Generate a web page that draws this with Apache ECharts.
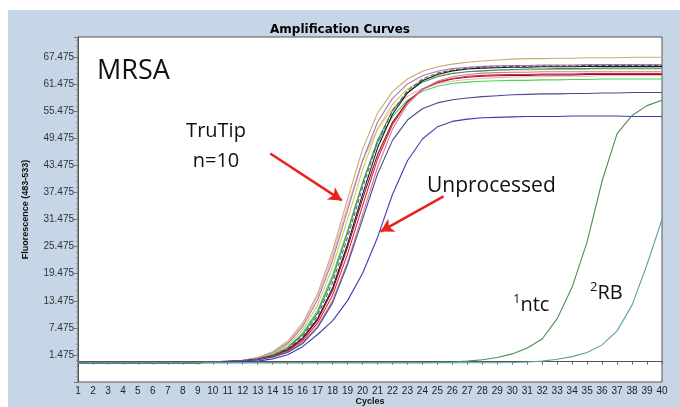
<!DOCTYPE html>
<html>
<head>
<meta charset="utf-8">
<script src="https://cdn.jsdelivr.net/npm/echarts@6/dist/echarts.min.js"></script>
<style>
html, body { margin: 0; padding: 0; background: #fff; }
#chart { width: 680px; height: 407px; }
</style>
</head>
<body>
<div id="chart"></div>
<script>
// cycles on the x axis
const cycles = [1, 2, 3, 4, 5, 6, 7, 8, 9, 10, 11, 12, 13, 14, 15, 16, 17, 18, 19, 20,
  21, 22, 23, 24, 25, 26, 27, 28, 29, 30, 31, 32, 33, 34, 35, 36, 37, 38, 39, 40]

// TruTip n=10 (plus one lower plateau run), fluorescence per cycle
const truTan = [-0.25, -0.25, -0.25, -0.25, -0.25, -0.25, -0.25, -0.25, -0.25, -0.1, 0.1,
  0.3, 0.9, 2.2, 4.5, 8.5, 15, 24.5, 36, 47, 55, 59.8, 62.6, 64.3, 65.3, 65.9, 66.3, 66.6, 66.8, 67.0,
  67.1, 67.1, 67.2, 67.2, 67.3, 67.3, 67.3, 67.4, 67.4, 67.4]
const truPink = [-0.25, -0.25, -0.25, -0.25, -0.25, -0.25, -0.25, -0.25, -0.25, -0.1, 0.1,
  0.3, 0.9, 2.1, 4.3, 8.2, 14.5, 23.5, 34.5, 44.5, 51.5, 56, 58.8, 60.5, 61.5, 62.1, 62.5, 62.7, 62.9, 63.0,
  63.1, 63.1, 63.2, 63.2, 63.2, 63.3, 63.3, 63.3, 63.3, 63.3]
const truLavender = [-0.25, -0.25, -0.25, -0.25, -0.25, -0.25, -0.25, -0.25, -0.25, -0.1, 0.1,
  0.3, 0.8, 1.9, 4.0, 7.7, 13.7, 22.5, 33.5, 44.5, 53, 58.3, 61.5, 63.3, 64.3, 64.9, 65.2, 65.4, 65.5, 65.6,
  65.6, 65.7, 65.7, 65.7, 65.8, 65.8, 65.8, 65.8, 65.8, 65.8]
const truYellow = [-0.25, -0.25, -0.25, -0.25, -0.25, -0.25, -0.25, -0.25, -0.25, -0.1, 0.0,
  0.2, 0.7, 1.7, 3.6, 7.0, 12.5, 21, 31.5, 42.5, 51.5, 57, 60.4, 62.3, 63.3, 63.9, 64.2, 64.4, 64.5, 64.6,
  64.6, 64.7, 64.7, 64.7, 64.8, 64.8, 64.8, 64.8, 64.8, 64.8]
const truGreen = [-0.25, -0.25, -0.25, -0.25, -0.25, -0.25, -0.25, -0.25, -0.25, -0.1, 0.0,
  0.2, 0.6, 1.5, 3.2, 6.3, 11.3, 19.2, 29, 39.5, 48.5, 54.3, 57.9, 59.9, 61, 61.6, 61.9, 62.1, 62.2, 62.3,
  62.3, 62.4, 62.4, 62.5, 62.5, 62.6, 62.6, 62.6, 62.6, 62.6]
const truTeal = [-0.25, -0.25, -0.25, -0.25, -0.25, -0.25, -0.25, -0.25, -0.25, -0.1, 0.0,
  0.2, 0.6, 1.4, 3.0, 6.0, 10.8, 18.5, 28.5, 39.5, 49, 55.6, 59.6, 61.9, 63.1, 63.8, 64.2, 64.4, 64.6, 64.7,
  64.8, 64.8, 64.9, 64.9, 64.9, 65.0, 65.0, 65.0, 65.0, 65.0]
const truGray = [-0.25, -0.25, -0.25, -0.25, -0.25, -0.25, -0.25, -0.25, -0.25, -0.1, 0.0,
  0.2, 0.5, 1.3, 2.8, 5.6, 10.2, 17.5, 27.5, 38.5, 48.5, 55.5, 60, 62.6, 63.9, 64.6, 65.0, 65.2, 65.3, 65.4,
  65.4, 65.5, 65.5, 65.5, 65.6, 65.6, 65.6, 65.6, 65.6, 65.6]
const truBlack = [-0.25, -0.25, -0.25, -0.25, -0.25, -0.25, -0.25, -0.25, -0.25, -0.1, 0.0,
  0.1, 0.5, 1.2, 2.6, 5.2, 9.5, 16.3, 26, 37, 47.3, 54.8, 59.5, 62.2, 63.6, 64.4, 64.8, 65.0, 65.1, 65.2,
  65.2, 65.3, 65.3, 65.3, 65.4, 65.4, 65.4, 65.4, 65.4, 65.4]
const truMaroon = [-0.25, -0.25, -0.25, -0.25, -0.25, -0.25, -0.25, -0.25, -0.25, -0.1, 0.0,
  0.1, 0.5, 1.2, 2.5, 5.0, 9.2, 15.8, 25.3, 36, 45.8, 53, 57.6, 60.3, 61.8, 62.6, 63.0, 63.2, 63.3, 63.4,
  63.4, 63.5, 63.5, 63.5, 63.6, 63.6, 63.6, 63.6, 63.6, 63.6]
const truRed = [-0.25, -0.25, -0.25, -0.25, -0.25, -0.25, -0.25, -0.25, -0.25, -0.1, 0.0,
  0.1, 0.4, 1.1, 2.3, 4.6, 8.5, 14.7, 23.8, 34.5, 44.8, 52.5, 57.4, 60.3, 61.9, 62.7, 63.2, 63.4, 63.5, 63.6,
  63.6, 63.7, 63.7, 63.7, 63.8, 63.8, 63.8, 63.8, 63.8, 63.8]
const truMagenta = [-0.25, -0.25, -0.25, -0.25, -0.25, -0.25, -0.25, -0.25, -0.25, -0.1, 0.0,
  0.1, 0.4, 1.0, 2.1, 4.2, 7.8, 13.5, 22, 32.5, 43, 51.5, 57, 60.3, 62.1, 63.1, 63.6, 63.9, 64.0, 64.1,
  64.1, 64.2, 64.2, 64.2, 64.2, 64.2, 64.2, 64.2, 64.2, 64.2]
const truNavy = [-0.25, -0.25, -0.25, -0.25, -0.25, -0.25, -0.25, -0.25, -0.25, -0.1, 0.0,
  0.1, 0.4, 1.0, 2.0, 4.0, 7.5, 13, 21.5, 31.5, 41.5, 49, 53.5, 56, 57.3, 58.0, 58.4, 58.7, 58.9, 59.1,
  59.2, 59.3, 59.3, 59.4, 59.4, 59.5, 59.5, 59.6, 59.6, 59.6]

// unprocessed sample
const unprocessed = [-0.25, -0.25, -0.25, -0.25, -0.25, -0.25, -0.25, -0.25, -0.25, -0.2, -0.1,
  0.0, 0.1, 0.6, 1.5, 3.3, 6.0, 9.0, 13.5, 19.5, 27.5, 37, 44.5, 49.3, 52, 53.2, 53.7, 54.0, 54.1, 54.2,
  54.3, 54.3, 54.3, 54.4, 54.4, 54.4, 54.4, 54.3, 54.3, 54.3]

// controls: 1 ntc, 2 RB
const ntc = [-0.25, -0.25, -0.25, -0.25, -0.25, -0.25, -0.25, -0.25, -0.25, -0.25, -0.25,
  -0.25, -0.25, -0.25, -0.25, -0.25, -0.25, -0.25, -0.25, -0.25, -0.25, -0.25, -0.25, -0.25,
  -0.2, -0.1, 0.1, 0.4, 0.9, 1.7, 3.0, 5.0, 9.5, 16.5, 26.5, 40, 50.5, 54.5, 56.7, 57.9]
const rb = [-0.25, -0.25, -0.25, -0.25, -0.25, -0.25, -0.25, -0.25, -0.25, -0.25, -0.25,
  -0.25, -0.25, -0.25, -0.25, -0.25, -0.25, -0.25, -0.25, -0.25, -0.25, -0.25, -0.25, -0.25,
  -0.25, -0.25, -0.25, -0.25, -0.25, -0.2, -0.1, 0.1, 0.5, 1.1, 2.0, 3.7, 6.8, 12.5, 21.5, 31.5]

// arrow annotations [cycle, fluorescence]
const arrowTruTip = [[13.84, 46.1], [18.62, 35.7]]
const arrowUnproc = [[25.41, 36.6], [21.2, 28.8]]

const curves = [
  { name: 'TruTip 1', values: truTan, color: '#c9ab6c' },
  { name: 'TruTip 2', values: truPink, color: '#ebb3bb' },
  { name: 'TruTip 3', values: truLavender, color: '#a277c2' },
  { name: 'TruTip 4', values: truYellow, color: '#d9cb45' },
  { name: 'TruTip 5', values: truGreen, color: '#4fd24f' },
  { name: 'TruTip 6', values: truTeal, color: '#3a8e7e' },
  { name: 'TruTip 7', values: truGray, color: '#666666', type: 'dashed' },
  { name: 'TruTip 8', values: truBlack, color: '#1a1a1a' },
  { name: 'TruTip 9', values: truMaroon, color: '#7a1434' },
  { name: 'TruTip 10', values: truRed, color: '#e02a2a' },
  { name: 'TruTip 11', values: truMagenta, color: '#d276aa' },
  { name: 'TruTip 12', values: truNavy, color: '#4a4a8c' },
  { name: 'Unprocessed', values: unprocessed, color: '#3d3db0' },
  { name: 'ntc', values: ntc, color: '#4d8f4d' },
  { name: 'RB', values: rb, color: '#5aa0a6' }
]

const chart = echarts.init(document.getElementById('chart'))

const series = curves.map(item => {
  return {
    name: item.name,
    type: 'line',
    showSymbol: false,
    silent: true,
    lineStyle: { color: item.color, width: 1.1, type: item.type || 'solid' },
    data: cycles.map((c, i) => [c, item.values[i]])
  }
})

series.push({
  name: 'arrows',
  type: 'line',
  data: [],
  silent: true,
  markLine: {
    silent: true,
    symbol: ['none', 'arrow'],
    symbolSize: [11, 13],
    label: { show: false },
    lineStyle: { color: '#e8231c', width: 2.5, type: 'solid' },
    data: [
      [{ coord: arrowTruTip[0] }, { coord: arrowTruTip[1] }],
      [{ coord: arrowUnproc[0] }, { coord: arrowUnproc[1] }]
    ]
  }
})

const labelFont = 'Open Sans'

const option = {
  backgroundColor: '#fff',
  animation: false,
  title: {
    text: 'Amplification Curves',
    left: 'center',
    top: 19,
    textStyle: { fontSize: 12, fontWeight: 'bold', fontFamily: 'DejaVu Sans', color: '#000' }
  },
  grid: {
    left: 78,
    right: 18,
    top: 37,
    bottom: 25,
    containLabel: false,
    outerBoundsMode: 'none',
    show: true,
    backgroundColor: '#fff',
    borderColor: '#555',
    borderWidth: 1
  },
  xAxis: {
    type: 'value',
    min: 1,
    max: 40,
    interval: 1,
    name: 'Cycles',
    nameLocation: 'middle',
    nameGap: 15,
    nameMoveOverlap: false,
    nameTextStyle: { fontSize: 9, fontWeight: 'bold', color: '#111', fontFamily: 'Liberation Sans' },
    axisLine: { lineStyle: { color: '#555' } },
    axisTick: { length: 3, lineStyle: { color: '#666' } },
    axisLabel: { fontSize: 10, color: '#222', margin: 4, fontFamily: 'Liberation Sans' },
    splitLine: { show: false }
  },
  yAxis: {
    type: 'value',
    min: -4.525,
    max: 71.9,
    interval: 6,
    name: 'Fluorescence (483-533)',
    nameLocation: 'middle',
    nameGap: 48,
    nameMoveOverlap: false,
    nameTextStyle: { fontSize: 9, fontWeight: 'bold', color: '#111', fontFamily: 'Liberation Sans' },
    axisLine: { show: true, lineStyle: { color: '#555' } },
    axisTick: { length: 4, lineStyle: { color: '#777' } },
    minorTick: { show: true, splitNumber: 5, length: 2, lineStyle: { color: '#999' } },
    axisLabel: {
      fontSize: 10,
      color: '#333',
      margin: 4,
      fontFamily: 'Liberation Sans',
      showMinLabel: false,
      showMaxLabel: false,
      formatter: v => (Math.round((v - 1.475) / 6) * 6 + 1.475).toFixed(3)
    },
    splitLine: { show: false }
  },
  graphic: [
    {
      type: 'rect',
      z: -100,
      silent: true,
      shape: { x: 8, y: 10, width: 672, height: 397 },
      style: { fill: '#c6d6e6' }
    },
    {
      type: 'text', x: 97, y: 71, silent: true,
      style: { text: 'MRSA', fontSize: 27, fontFamily: labelFont, fill: '#111', align: 'left', verticalAlign: 'middle' }
    },
    {
      type: 'text', x: 216, y: 131, silent: true,
      style: { text: 'TruTip', fontSize: 20, fontFamily: labelFont, fill: '#111', align: 'center', verticalAlign: 'middle' }
    },
    {
      type: 'text', x: 216, y: 161, silent: true,
      style: { text: 'n=10', fontSize: 20, fontFamily: labelFont, fill: '#111', align: 'center', verticalAlign: 'middle' }
    },
    {
      type: 'text', x: 427, y: 186, silent: true,
      style: { text: 'Unprocessed', fontSize: 21, fontFamily: labelFont, fill: '#111', align: 'left', verticalAlign: 'middle' }
    },
    {
      type: 'text', x: 513, y: 305, silent: true,
      style: {
        text: '{s|1}{n|ntc}',
        align: 'left',
        verticalAlign: 'middle',
        rich: {
          s: { fontSize: 13, fontFamily: labelFont, fill: '#111', verticalAlign: 'top', lineHeight: 24 },
          n: { fontSize: 20, fontFamily: labelFont, fill: '#111', lineHeight: 24 }
        }
      }
    },
    {
      type: 'text', x: 590, y: 293, silent: true,
      style: {
        text: '{s|2}{n|RB}',
        align: 'left',
        verticalAlign: 'middle',
        rich: {
          s: { fontSize: 13, fontFamily: labelFont, fill: '#111', verticalAlign: 'top', lineHeight: 24 },
          n: { fontSize: 20, fontFamily: labelFont, fill: '#111', lineHeight: 24 }
        }
      }
    }
  ],
  series: series
}

chart.setOption(option)
</script>
</body>
</html>
